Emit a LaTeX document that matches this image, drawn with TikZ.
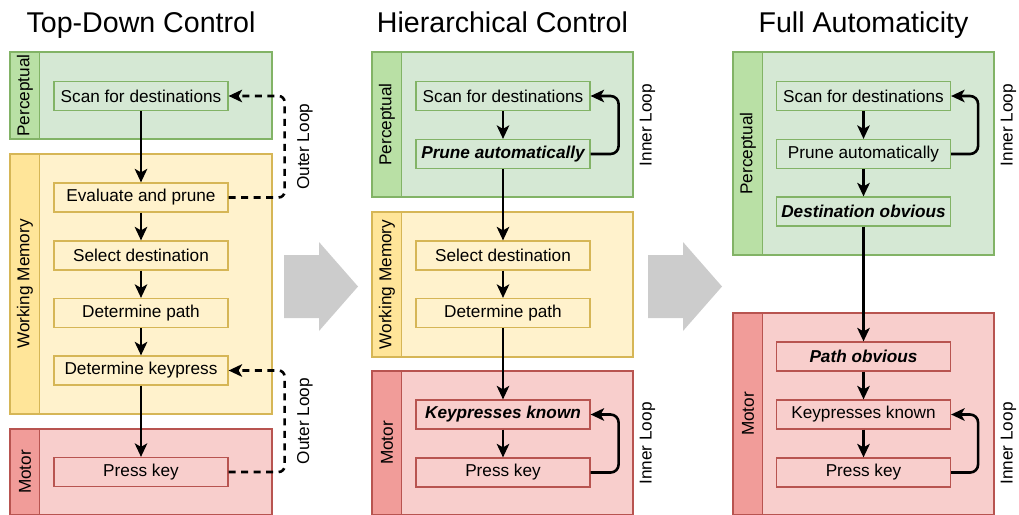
\documentclass[tikz,border=0pt]{standalone}
\usepackage{fontspec}
\setmainfont{Liberation Sans}
\usetikzlibrary{arrows.meta}

\definecolor{grfill}{HTML}{D5E8D4}
\definecolor{grline}{HTML}{82B366}
\definecolor{grhead}{HTML}{B9E0A5}
\definecolor{yefill}{HTML}{FFF2CC}
\definecolor{yeline}{HTML}{D6B656}
\definecolor{yehead}{HTML}{FFE599}
\definecolor{rdfill}{HTML}{F8CECC}
\definecolor{rdline}{HTML}{B85450}
\definecolor{rdhead}{HTML}{F19C99}
\definecolor{bigarrow}{HTML}{CCCCCC}

\newcommand\lblfont{\fontsize{17.2}{20}\selectfont}
\newcommand\ttlfont{\fontsize{28.6}{32}\selectfont}
\newcommand\stressed{\bfseries\itshape}

% swim lane: name, left, top, right, bottom, colour prefix, header text
\newcommand\drawlane[7]{%
  \fill[#6fill] (#2,#3) rectangle (#4,#5);
  \fill[#6head] (#2,#3) rectangle ({#2+29.5},#5);
  \draw[#6line, line width=1.2pt] (#2,#3) rectangle (#4,#5);
  \draw[#6line, line width=1.2pt] ({#2+29.5},#3) -- ({#2+29.5},#5);
  \node[rotate=90, font=\lblfont, inner sep=0pt] (#1) at ({#2+15},{(#3+#5)/2}) {#7};
}

\tikzset{
  box/.style={draw=#1line, fill=#1fill, line width=1.2pt,
    minimum width=174pt, minimum height=29pt, inner sep=0pt, font=\lblfont},
  flow/.style={line width=2.6pt, -{Stealth[length=13.5pt, width=12.5pt, inset=3.5pt]}},
  outerloop/.style={flow, dash pattern=on 7pt off 5.5pt, rounded corners=6pt},
  innerloop/.style={flow, rounded corners=8pt},
  looplabel/.style={rotate=90, font=\lblfont, inner sep=0pt},
  title/.style={font=\ttlfont, anchor=base, inner sep=0pt},
  bigarrowstyle/.style={fill=bigarrow}
}

\begin{document}
\begin{tikzpicture}[x=1pt, y=-1pt]
\useasboundingbox (0,0) rectangle (1019,514);
\clip (0,0) rectangle (1019,514);

% ---------- titles ----------
\node[title] (t1) at (141,32) {Top-Down Control};
\node[title] (t2) at (502.5,32) {Hierarchical Control};
\node[title] (t3) at (863.5,32) {Full Automaticity};

% ---------- lanes (motor lanes run on past the lower edge) ----------
\drawlane{h1p}{10}{52}{272}{139}{gr}{Perceptual}
\drawlane{h1w}{10}{154}{272}{414}{ye}{Working Memory}
\drawlane{h1m}{10}{429}{272}{515}{rd}{Motor}

\drawlane{h2p}{372}{52}{633}{197}{gr}{Perceptual}
\drawlane{h2w}{372}{212}{633}{357}{ye}{Working Memory}
\drawlane{h2m}{372}{371}{633}{515}{rd}{Motor}

\drawlane{h3p}{733}{52}{994}{255}{gr}{Perceptual}
\drawlane{h3m}{733}{313}{994}{515}{rd}{Motor}

% ---------- transition arrows ----------
\fill[bigarrowstyle] (284,255) -- (319,255) -- (319,242) -- (358,286.5)
  -- (319,331) -- (319,318) -- (284,318) -- cycle;
\fill[bigarrowstyle] (648,255) -- (683,255) -- (683,242) -- (722,286.5)
  -- (683,331) -- (683,318) -- (648,318) -- cycle;

% ---------- panel 1 ----------
\node[box=gr] (s1)  at (141,96)    {Scan for destinations};
\node[box=ye] (e1)  at (141,197.5) {Evaluate and prune};
\node[box=ye] (sd1) at (141,255.5) {Select destination};
\node[box=ye] (dp1) at (141,313)   {Determine path};
\node[box=ye] (dk1) at (141,370.5) {Determine keypress};
\node[box=rd] (pk1) at (141,472)   {Press key};

\draw[flow] (s1) -- (e1);
\draw[flow] (e1) -- (sd1);
\draw[flow] (sd1) -- (dp1);
\draw[flow] (dp1) -- (dk1);
\draw[flow] (dk1) -- (pk1);

\draw[outerloop] (e1.east) -- ++(56,0) |- (s1.east);
\draw[outerloop] (pk1.east) -- ++(56,0) |- (dk1.east);
\node[looplabel] (ol1) at (305,146.75) {Outer Loop};
\node[looplabel] (ol2) at (305,421.25) {Outer Loop};

% ---------- panel 2 ----------
\node[box=gr] (s2)  at (503,96)    {Scan for destinations};
\node[box=gr] (pa2) at (503,154)   {\stressed Prune automatically};
\node[box=ye] (sd2) at (503,255.5) {Select destination};
\node[box=ye] (dp2) at (503,313)   {Determine path};
\node[box=rd] (kk2) at (503,414.5) {\stressed Keypresses known};
\node[box=rd] (pk2) at (503,472.5) {Press key};

\draw[flow] (s2) -- (pa2);
\draw[flow] (pa2) -- (sd2);
\draw[flow] (sd2) -- (dp2);
\draw[flow] (dp2) -- (kk2);
\draw[flow] (kk2) -- (pk2);

\draw[innerloop] (pa2.east) -- ++(28,0) |- (s2.east);
\draw[innerloop] (pk2.east) -- ++(28,0) |- (kk2.east);
\node[looplabel] (il1) at (647.5,125) {Inner Loop};
\node[looplabel] (il2) at (647.5,443.5) {Inner Loop};

% ---------- panel 3 ----------
\node[box=gr] (s3)  at (863.5,96)    {Scan for destinations};
\node[box=gr] (pa3) at (863.5,154)   {Prune automatically};
\node[box=gr] (do3) at (863.5,211.5) {\stressed Destination obvious};
\node[box=rd] (po3) at (863.5,356.5) {\stressed Path obvious};
\node[box=rd] (kk3) at (863.5,414.5) {Keypresses known};
\node[box=rd] (pk3) at (863.5,472.5) {Press key};

\draw[flow] (s3) -- (pa3);
\draw[flow] (pa3) -- (do3);
\draw[flow] (do3) -- (po3);
\draw[flow] (po3) -- (kk3);
\draw[flow] (kk3) -- (pk3);

\draw[innerloop] (pa3.east) -- ++(27,0) |- (s3.east);
\draw[innerloop] (pk3.east) -- ++(27,0) |- (kk3.east);
\node[looplabel] (il3) at (1008.5,125) {Inner Loop};
\node[looplabel] (il4) at (1008.5,443.5) {Inner Loop};
\end{tikzpicture}
\end{document}
